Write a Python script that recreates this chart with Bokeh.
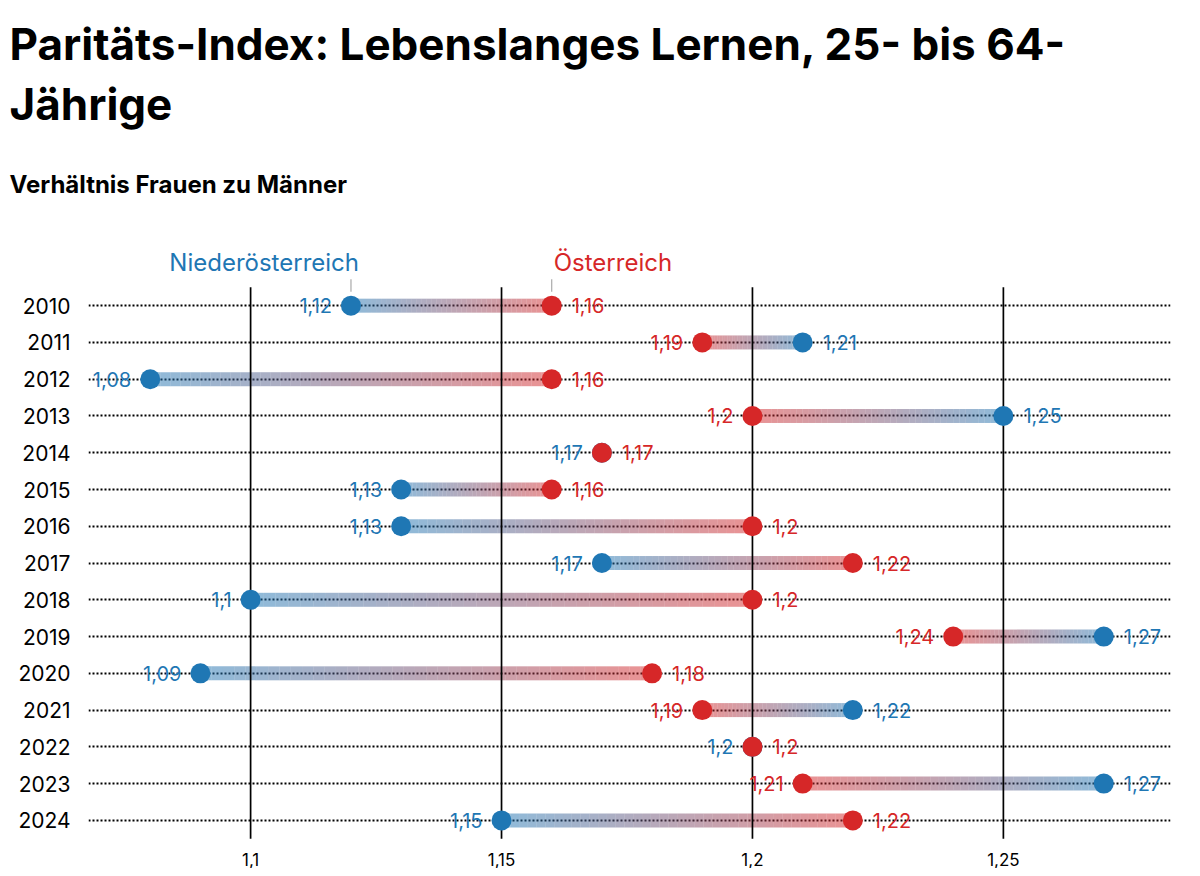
import numpy as np
from bokeh.plotting import figure
from bokeh.models import Title, FixedTicker, Range1d, ColumnDataSource
from bokeh.core.properties import value
from bokeh.embed import file_html
from bokeh.resources import INLINE

years = ["2010", "2011", "2012", "2013", "2014", "2015", "2016", "2017",
         "2018", "2019", "2020", "2021", "2022", "2023", "2024"]
noe = [1.12, 1.21, 1.08, 1.25, 1.17, 1.13, 1.13, 1.17, 1.10, 1.27, 1.09, 1.22, 1.20, 1.27, 1.15]
oe = [1.16, 1.19, 1.16, 1.20, 1.17, 1.16, 1.20, 1.22, 1.20, 1.24, 1.18, 1.19, 1.20, 1.21, 1.22]
x_ticks = [1.10, 1.15, 1.20, 1.25]
x_tick_labels = ["1,1", "1,15", "1,2", "1,25"]
series_names = ["Niederösterreich", "Österreich"]

FONT = "Inter"
BLUE = "#1f77b4"
RED = "#d62728"

def fmt(v):
    s = ("%.2f" % v).rstrip("0").rstrip(".")
    return s.replace(".", ",")

p = figure(width=1184, height=868, output_backend="svg", toolbar_location=None,
           x_range=Range1d(1.0677, 1.2833), y_range=Range1d(14.52, -1.8),
           min_border_left=88, min_border_right=14, min_border_bottom=0, min_border_top=0)
p.outline_line_color = None
p.background_fill_color = "white"

TOFF = -79
# titles (added innermost first)
p.title.text = ""
p.title.visible = False
p.add_layout(Title(text=" ", text_font=FONT, text_font_size="4px", standoff=0), "above")
p.add_layout(Title(text="Verhältnis Frauen zu Männer", text_font=FONT, text_font_size="24px",
                   text_font_style="bold", text_color="black", standoff=67, offset=TOFF), "above")
p.add_layout(Title(text="Jährige", text_font=FONT, text_font_size="44px",
                   text_font_style="bold", text_color="black", standoff=8, offset=TOFF), "above")
p.add_layout(Title(text="Paritäts-Index: Lebenslanges Lernen, 25- bis 64-", text_font=FONT,
                   text_font_size="44px", text_font_style="bold", text_color="black",
                   standoff=0, offset=TOFF), "above")
p.add_layout(Title(text=" ", text_font=FONT, text_font_size="10px", standoff=0), "above")

# axes
yi = list(range(len(years)))
p.yaxis.ticker = FixedTicker(ticks=yi)
p.yaxis.major_label_overrides = {i: y for i, y in enumerate(years)}
p.yaxis.axis_line_color = None
p.yaxis.major_tick_line_color = None
p.yaxis.minor_tick_line_color = None
p.yaxis.major_label_text_font = FONT
p.yaxis.major_label_text_font_size = "21px"
p.yaxis.major_label_text_color = "black"
p.yaxis.major_label_standoff = 12

p.xaxis.ticker = FixedTicker(ticks=x_ticks)
p.xaxis.major_label_overrides = {t: l for t, l in zip(x_ticks, x_tick_labels)}
p.xaxis.axis_line_color = None
p.xaxis.major_tick_line_color = None
p.xaxis.minor_tick_line_color = None
p.xaxis.major_label_text_font = FONT
p.xaxis.major_label_text_font_size = "17px"
p.xaxis.major_label_text_color = "black"
p.xaxis.major_label_standoff = 7

p.xgrid.visible = False
p.ygrid.ticker = FixedTicker(ticks=yi)
p.ygrid.grid_line_color = "black"
p.ygrid.grid_line_dash = "2 2"
p.ygrid.grid_line_width = 1.8

# gradient bars
def hex2rgb(h):
    h = h.lstrip("#")
    return np.array([int(h[i:i + 2], 16) for i in (0, 2, 4)], dtype=float)

cb, cr = hex2rgb(BLUE), hex2rgb(RED)
N = 40
sx0, sx1, sy, sc = [], [], [], []
for i, (a, b) in enumerate(zip(noe, oe)):
    if a == b:
        continue
    edges = np.linspace(a, b, N + 1)
    for k in range(N):
        t = (k + 0.5) / N
        c = cb * (1 - t) + cr * t
        sx0.append(edges[k]); sx1.append(edges[k + 1]); sy.append(i)
        sc.append("#%02x%02x%02x" % tuple(int(round(v)) for v in c))
p.segment(x0=sx0, y0=sy, x1=sx1, y1=sy, line_color=sc, line_width=14, line_alpha=0.5,
          line_cap="butt")

# vertical reference lines
p.segment(x0=x_ticks, x1=x_ticks, y0=[-0.5] * len(x_ticks), y1=[len(years) - 0.5] * len(x_ticks),
          line_color="black", line_width=1.7)

# dots
p.scatter(x=noe, y=yi, size=20, fill_color=BLUE, line_color=None)
p.scatter(x=oe, y=yi, size=20, fill_color=RED, line_color=None)

# labels
lx, ly, lt, lc, la, lo = [], [], [], [], [], []
for i, (a, b) in enumerate(zip(noe, oe)):
    a_left = a <= b
    for v, col, left in ((a, BLUE, a_left), (b, RED, not a_left)):
        lx.append(v); ly.append(i); lt.append(fmt(v)); lc.append(col)
        la.append("right" if left else "left")
        lo.append(-19 if left else 20)
src = ColumnDataSource(dict(x=lx, y=ly, text=lt, color=lc, align=la, off=lo))
p.text(x="x", y="y", text="text", text_color="color", text_align="align", x_offset="off",
       text_baseline="middle", text_font=value(FONT), text_font_size="20px", source=src)

# series labels at first year
p.segment(x0=[noe[0], oe[0]], x1=[noe[0], oe[0]], y0=[-0.72, -0.72], y1=[-0.38, -0.38],
          line_color="#aaaaaa", line_width=1.2)
p.text(x=[noe[0], oe[0]], y=[-1.17, -1.17], text=series_names, text_color=[BLUE, RED],
       text_align=["right", "left"], x_offset=[8, 2],
       text_baseline="middle", text_font=value(FONT), text_font_size="24px")

open("out.html", "w").write(file_html(p, INLINE))
